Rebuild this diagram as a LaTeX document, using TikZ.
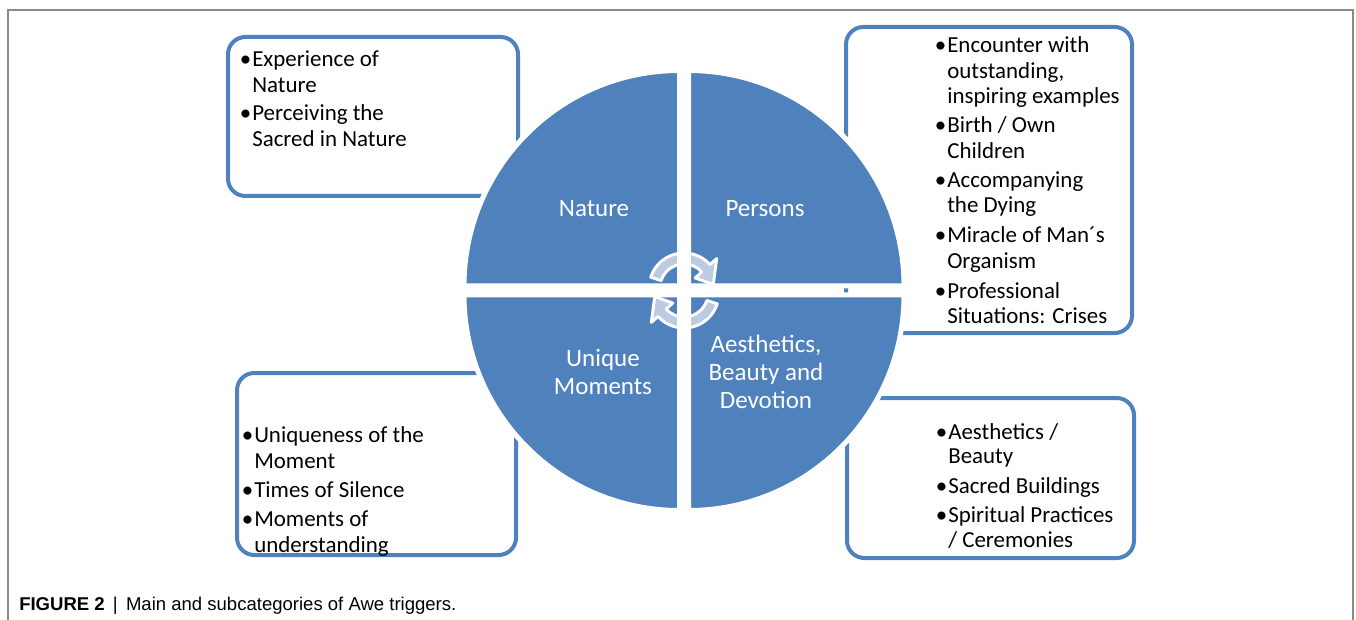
\documentclass[tikz,border=0pt]{standalone}
\usepackage{fontspec}
\setmainfont{Carlito}
\newfontfamily\capfont{Liberation Sans}
\usetikzlibrary{calc}
\definecolor{sblue}{HTML}{4F81BD}
\definecolor{arrowfill}{HTML}{BCCBE2}
\definecolor{framegray}{HTML}{8A8A8A}
\begin{document}
\begin{tikzpicture}[x=0.75pt,y=-0.75pt,
  boxframe/.style={draw=sblue, line width=3pt, rounded corners=13pt},
  sector/.style={fill=sblue, draw=white, line width=3.75pt},
  cyclearrow/.style={fill=arrowfill, draw=white, line width=2.2pt, line join=round},
  gapband/.style={fill=white},
  sublabel/.style={anchor=base west, inner sep=0pt, font=\fontsize{17.2}{20}\selectfont},
  bulletlabel/.style={anchor=base east, inner sep=0pt, font=\fontsize{17.2}{20}\selectfont},
  mainlabel/.style={text=white, align=center, font=\fontsize{18.75}{21}\selectfont, inner sep=0pt},
]
\useasboundingbox (0,0) rectangle (1356,620);
% frame
\draw[framegray, line width=1.1pt] (8,620) -- (8,10) -- (1353,10) -- (1353,620);
% sub-category boxes
\draw[boxframe] (228,37) rectangle (518,196);
\draw[boxframe] (846,27) rectangle (1132,333);
\draw[boxframe] (237,373) rectangle (516,555);
\draw[boxframe] (847,398) rectangle (1134,558);
% sectors
\path[sector] (679.5,286) -- (464,286) arc[start angle=180, end angle=270, radius=215.5] -- cycle;
\path[sector] (688.5,286) -- (688.5,70.5) arc[start angle=270, end angle=360, radius=215.5] -- cycle;
\path[sector] (688.5,295) -- (904,295) arc[start angle=0, end angle=90, radius=215.5] -- cycle;
\path[sector] (679.5,295) -- (679.5,510.5) arc[start angle=90, end angle=180, radius=215.5] -- cycle;
% circular arrows
\coordinate (tc) at (684,288);
\coordinate (bc) at (684,293);
\path[cyclearrow] ($(tc)+(198:35)$) arc[start angle=198, end angle=318, radius=35]
  -- ($(tc)+(318:44)$) -- ($(tc)+(353:29.5)$) -- ($(tc)+(318:15)$) -- ($(tc)+(318:24)$)
  arc[start angle=318, end angle=198, radius=24] -- cycle;
\path[cyclearrow] ($(bc)+(18:35)$) arc[start angle=18, end angle=138, radius=35]
  -- ($(bc)+(138:44)$) -- ($(bc)+(173:29.5)$) -- ($(bc)+(138:15)$) -- ($(bc)+(138:24)$)
  arc[start angle=138, end angle=18, radius=24] -- cycle;
\fill[gapband] (677,245) rectangle (691,336);
% main labels
\node[mainlabel] (nature) at (594,209) {Nature};
\node[mainlabel] (persons) at (765,209) {Persons};
\node[mainlabel] (unique) at (603,372) {Unique\\Moments};
\node[mainlabel] (aesth) at (766,372) {Aesthetics,\\Beauty and\\Devotion};
% box texts
\foreach \yy/\bb/\linetext [count=\i] in {67/1/{Experience of},93/0/{Nature},121/1/{Perceiving the},147/0/{Sacred in Nature}}{
  \node[sublabel] (tl\i) at (252,\yy) {\linetext};
  \ifnum\bb=1 \node[bulletlabel] (tlb\i) at (251.5,\yy) {•};\fi
}
\foreach \yy/\bb/\linetext [count=\i] in {53/1/{Encounter with},79/0/{outstanding,},104/0/{inspiring examples},133/1/{Birth / Own},159/0/{Children},188/1/{Accompanying},213/0/{the Dying},243/1/{Miracle of Man´s},269/0/{Organism},299/1/{Professional},324/0/{Situations: Crises}}{
  \node[sublabel] (tr\i) at (947,\yy) {\linetext};
  \ifnum\bb=1 \node[bulletlabel] (trb\i) at (946.5,\yy) {•};\fi
}
\foreach \yy/\bb/\linetext [count=\i] in {442/1/{Uniqueness of the},468/0/{Moment},497/1/{Times of Silence},526/1/{Moments of},552/0/{understanding}}{
  \node[sublabel] (bl\i) at (254,\yy) {\linetext};
  \ifnum\bb=1 \node[bulletlabel] (blb\i) at (253.5,\yy) {•};\fi
}
\foreach \yy/\bb/\linetext [count=\i] in {439/1/{Aesthetics /},463/0/{Beauty},493/1/{Sacred Buildings},522/1/{Spiritual Practices},547/0/{/ Ceremonies}}{
  \node[sublabel] (br\i) at (948,\yy) {\linetext};
  \ifnum\bb=1 \node[bulletlabel] (brb\i) at (947.5,\yy) {•};\fi
}
% caption
\node[anchor=base west, inner sep=0pt, font=\capfont\fontsize{13.9}{16}\selectfont] (caption) at (19,610) {\textbf{FIGURE 2}\ \,|\ \,Main and subcategories of Awe triggers.};
\end{tikzpicture}
\end{document}
